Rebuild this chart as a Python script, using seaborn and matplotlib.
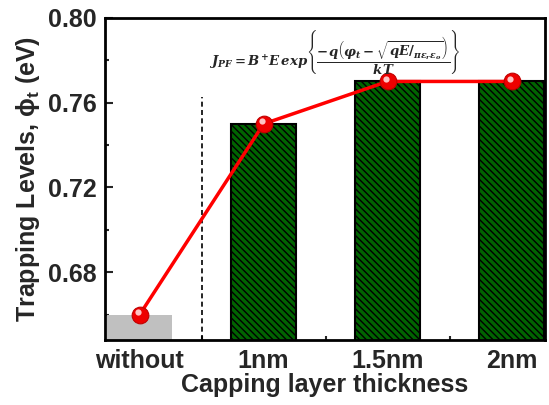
import matplotlib
matplotlib.use("Agg")
import matplotlib.pyplot as plt
import matplotlib.transforms as mtransforms
from matplotlib.ticker import MultipleLocator
import seaborn as sns
import pandas as pd

categories = ["without", "1nm", "1.5nm", "2nm"]
trap_levels = [0.66, 0.75, 0.77, 0.77]
y_ticks = [0.68, 0.72, 0.76, 0.80]

sns.set_style("ticks")
plt.rcParams["font.family"] = ["Liberation Sans", "DejaVu Sans"]
plt.rcParams["font.weight"] = "bold"
plt.rcParams["hatch.linewidth"] = 1.0
plt.rcParams["hatch.color"] = "black"
plt.rcParams["mathtext.fontset"] = "custom"
plt.rcParams["mathtext.it"] = "DejaVu Serif:italic:bold"
plt.rcParams["mathtext.rm"] = "DejaVu Serif:bold"
plt.rcParams["mathtext.bf"] = "DejaVu Serif:bold"

fig = plt.figure(figsize=(5.49, 4.05), dpi=100)
ax = fig.add_axes([0.191, 0.160, 0.802, 0.796])

df = pd.DataFrame({"cat": categories, "val": trap_levels})
bar_colors = ["#c0c0c0", "#006400", "#006400", "#006400"]
sns.barplot(data=df, x="cat", y="val", hue="cat", palette=bar_colors,
            width=0.52, legend=False, ax=ax, saturation=1)
for i, p in enumerate(ax.patches):
    if i == 0:
        p.set_edgecolor("none")
        p.set_linewidth(0)
    else:
        p.set_edgecolor("black")
        p.set_linewidth(1.5)
        p.set_hatch("\\\\\\\\\\")

ax.set_ylim(0.648, 0.80)
ax.set_xlim(-0.28, 3.27)

xs = list(range(len(categories)))
ax.plot(xs, trap_levels, color="red", lw=2.5, zorder=5)
ax.plot(xs, trap_levels, ls="none", marker="o", ms=12, mfc="#ee0000",
        mec="#c00000", mew=0.8, zorder=6)
off = mtransforms.offset_copy(ax.transData, fig=fig, x=-1.5, y=1.8, units="points")
ax.plot(xs, trap_levels, ls="none", marker="o", ms=4.5, mfc="#ffd0d0",
        mec="none", alpha=0.95, zorder=7, transform=off)

ax.vlines(0.5, 0.648, 0.7627, colors="black", linestyles=(0, (3, 2)), lw=1.2)

ax.set_yticks(y_ticks)
ax.yaxis.set_minor_locator(MultipleLocator(0.02))
ax.set_xticks(xs)
ax.set_xticks([0.5, 1.5, 2.5], minor=True)
ax.set_xticklabels(categories)
ax.set_yticklabels([f"{v:.2f}" for v in y_ticks])
ax.tick_params(which="major", direction="in", length=6, width=1.5,
               labelsize=18, pad=6)
ax.tick_params(which="minor", direction="in", length=3, width=1.5)
for s in ax.spines.values():
    s.set_linewidth(2)
    s.set_color("black")

ax.set_xlabel("Capping layer thickness", fontsize=18, fontweight="bold", labelpad=0)
ax.set_ylabel(r"Trapping Levels, $\mathregular{\phi_t}$ (eV)", fontsize=18,
              fontweight="bold", labelpad=4)

eq = (r"$J_{PF}=B^{+}E\,exp\left\{\dfrac{-q\left(\varphi_t-\sqrt{qE/_{\pi\varepsilon_r\varepsilon_o}}\right)}{kT}\right\}$")
fig.text(0.61, 0.872, eq, fontsize=9.5, ha="center", va="center")

fig.savefig("out.png", dpi=100)
